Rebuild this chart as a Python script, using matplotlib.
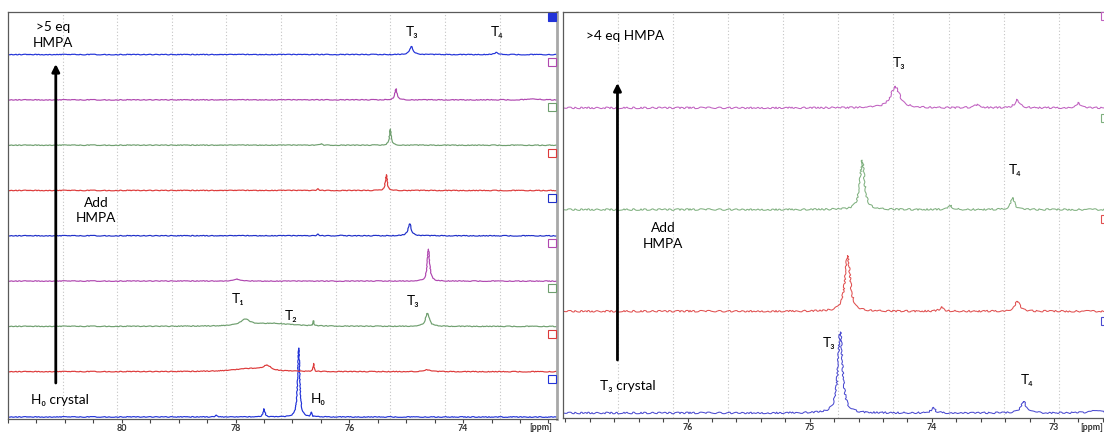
import numpy as np
import matplotlib
matplotlib.use("Agg")
import matplotlib.pyplot as plt
from matplotlib.patches import Rectangle
from matplotlib.ticker import FixedLocator, MultipleLocator

plt.rcParams['font.family'] = ['Lato', 'DejaVu Sans']

# ---------------- data ----------------
# Left stack: 9 spectra, listed bottom (H0 crystal) to top (>5 eq HMPA).
# Each spectrum is a list of peaks: shift [ppm], height, half-width [ppm].
left_shift = [
    [76.89, 77.50, 78.34, 76.67],
    [77.45, 77.75, 76.63, 74.64],
    [77.83, 77.35, 76.63, 74.63],
    [74.61, 77.98],
    [74.94, 76.55, 76.16],
    [75.35, 76.55],
    [75.28, 76.50],
    [75.18, 72.75],
    [74.91, 73.42],
]
left_height = [
    [69, 8, 2, 4],
    [5, 3, 8, 2],
    [6, 3, 5, 13],
    [32, 2],
    [12, 1.5, 1],
    [16, 1.5],
    [16, 1.5],
    [11, 1],
    [8, 2],
]
left_width = [
    [0.022, 0.02, 0.02, 0.01],
    [0.08, 0.35, 0.01, 0.06],
    [0.10, 0.40, 0.01, 0.04],
    [0.025, 0.05],
    [0.035, 0.02, 0.02],
    [0.02, 0.02],
    [0.02, 0.02],
    [0.025, 0.10],
    [0.04, 0.04],
]
left_colors = ['#2233d8', '#dd3a3a', '#6f9f6f', '#b048b0', '#1f2fc8',
               '#dd3a3a', '#6f9f6f', '#b048b0', '#2233d8']
left_ticks = [80, 78, 76, 74]

# Right stack: 4 spectra, bottom (T3 crystal) to top (>4 eq HMPA).
right_shift = [
    [74.75, 73.25, 73.99, 72.66],
    [74.69, 73.30, 73.92],
    [74.57, 73.34, 73.85],
    [74.30, 73.63, 73.30, 72.80],
]
right_height = [
    [81, 12, 5, 3],
    [55, 10, 4],
    [49, 12, 4],
    [21, 3, 8, 5],
]
right_width = [
    [0.022, 0.025, 0.02, 0.05],
    [0.025, 0.025, 0.02],
    [0.022, 0.02, 0.02],
    [0.045, 0.03, 0.025, 0.02],
]
right_colors = ['#4a4ad0', '#e05050', '#7fb07f', '#c060c0']
right_ticks = [76, 75, 74, 73]

# ---------------- layout ----------------
W, H = 1104, 433
fig = plt.figure(figsize=(W / 100, H / 100), dpi=100)


def rect(x0, y0, x1, y1):
    return [x0 / W, 1 - y1 / H, (x1 - x0) / W, (y1 - y0) / H]


def fig_xy(xp, yp):
    return xp / W, 1 - yp / H


def spectrum(ppm, shifts, heights, widths):
    y = np.zeros_like(ppm)
    for s, h, w in zip(shifts, heights, widths):
        y += h / (1.0 + ((ppm - s) / w) ** 2)
    return y


def style_axis(ax, major, minor):
    ax.set_yticks([])
    ax.xaxis.set_major_locator(FixedLocator(major))
    ax.xaxis.set_minor_locator(MultipleLocator(minor))
    ax.tick_params(axis='x', which='major', length=3.2, width=0.8,
                   color='#444444', labelsize=6.4, labelcolor='#333333', pad=0.4)
    ax.tick_params(axis='x', which='minor', length=2.6, width=0.8, color='#444444')
    ax.set_xticklabels([str(t) for t in major], fontweight='bold')


# ---- left panel ----
axL = fig.add_axes(rect(8, 12, 557, 419))
xl = (82.0, 72.35)
axL.set_xlim(*xl)
axL.set_ylim(-2, 405)
stepL = 45.3
ppmL = np.linspace(xl[0], xl[1], 3000)
for gx in np.linspace(82.0, 72.4, 11)[1:-1]:
    axL.axvline(gx, color='#c4c4c4', lw=0.8, ls=(0, (1, 2)), zorder=0)
for i in range(len(left_shift)):
    off = i * stepL
    y = spectrum(ppmL, left_shift[i], left_height[i], left_width[i]) + off
    ln, = axL.plot(ppmL, y, color=left_colors[i], lw=0.85, zorder=2)
    ln.set_sketch_params(scale=0.35, length=4, randomness=6)
    top = (i == len(left_shift) - 1)
    axL.add_patch(Rectangle((72.50, off + 34), -0.14, 8, transform=axL.transData,
                            facecolor=left_colors[i] if top else 'white',
                            edgecolor=left_colors[i], lw=0.8, zorder=3, clip_on=False))
style_axis(axL, left_ticks, 0.5)
for s in ('left', 'top', 'bottom'):
    axL.spines[s].set_color('#5a5a5a')
    axL.spines[s].set_linewidth(0.9)
axL.spines['right'].set_color('#a8a8a8')
axL.spines['right'].set_linewidth(2.0)

# ---- right panel ----
axR = fig.add_axes(rect(563, 12, 1106, 418))
xr = (77.02, 72.574)
axR.set_xlim(*xr)
axR.set_ylim(-5, 401)
stepR = 101.7
ppmR = np.linspace(xr[0], xr[1], 3000)
for gx in np.linspace(77.02, 72.51, 11)[1:-1]:
    axR.axvline(gx, color='#c4c4c4', lw=0.8, ls=(0, (1, 2)), zorder=0)
for i in range(len(right_shift)):
    off = i * stepR
    y = spectrum(ppmR, right_shift[i], right_height[i], right_width[i]) + off
    ln, = axR.plot(ppmR, y, color=right_colors[i], lw=0.75, zorder=2)
    ln.set_sketch_params(scale=0.8, length=8, randomness=5)
    axR.add_patch(Rectangle((72.615, off + 88), -0.12, 8, transform=axR.transData,
                            facecolor='white', edgecolor=right_colors[i], lw=0.8,
                            zorder=3, clip_on=False))
style_axis(axR, right_ticks, 0.2)
for s in ('left', 'top', 'bottom'):
    axR.spines[s].set_color('#5a5a5a')
    axR.spines[s].set_linewidth(0.9)
axR.spines['right'].set_visible(False)

# ---- annotations ----
fs = 9.8
txt = dict(fontsize=fs, color='black', ha='center', va='center')

# left panel
fig.text(*fig_xy(53, 27), '>5 eq', **txt)
fig.text(*fig_xy(53, 43), 'HMPA', **txt)
fig.text(*fig_xy(96, 203), 'Add', **txt)
fig.text(*fig_xy(96, 218), 'HMPA', **txt)
fig.text(*fig_xy(412, 32), 'T₃', **txt)
fig.text(*fig_xy(497, 32), 'T₄', **txt)
fig.text(*fig_xy(238, 299), 'T₁', **txt)
fig.text(*fig_xy(291, 316), 'T₂', **txt)
fig.text(*fig_xy(413, 301), 'T₃', **txt)
fig.text(*fig_xy(318, 399), 'H₀', **txt)
fig.text(*fig_xy(60, 400), 'H₀ crystal', **txt)
fig.text(*fig_xy(541, 428), '[ppm]', fontsize=6.4, color='#333333',
         ha='center', va='center', fontweight='bold')
axL.annotate('', xy=(81.16, 417 - 64), xytext=(81.16, 417 - 383),
             arrowprops=dict(arrowstyle='-|>', lw=2.0, color='black',
                             mutation_scale=11, shrinkA=0, shrinkB=0))

# right panel
fig.text(*fig_xy(625, 36), '>4 eq HMPA', **txt)
fig.text(*fig_xy(899, 63), 'T₃', **txt)
fig.text(*fig_xy(1015, 170), 'T₄', **txt)
fig.text(*fig_xy(663, 228), 'Add', **txt)
fig.text(*fig_xy(663, 244), 'HMPA', **txt)
fig.text(*fig_xy(829, 343), 'T₃', **txt)
fig.text(*fig_xy(1027, 380), 'T₄', **txt)
fig.text(*fig_xy(628, 386), 'T₃ crystal', **txt)
fig.text(*fig_xy(1103, 428), '[ppm]', fontsize=6.4, color='#333333',
         ha='right', va='center', fontweight='bold')
axR.annotate('', xy=(76.574, 413 - 83), xytext=(76.574, 413 - 360),
             arrowprops=dict(arrowstyle='-|>', lw=2.0, color='black',
                             mutation_scale=11, shrinkA=0, shrinkB=0))

fig.savefig('out.png', dpi=100)
